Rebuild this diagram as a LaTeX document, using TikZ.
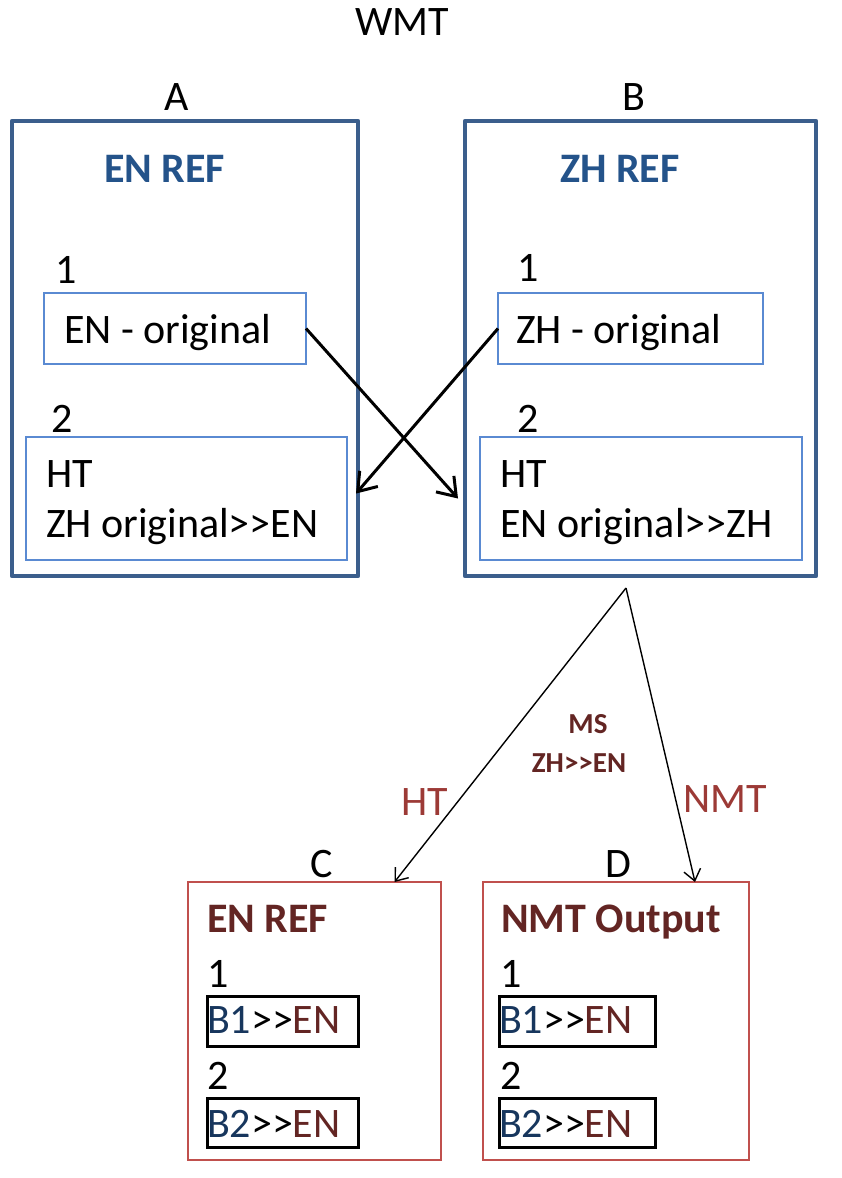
\documentclass[tikz,border=0pt]{standalone}
\usepackage{fontspec}
\setmainfont{Carlito}
\usetikzlibrary{arrows.meta}
\definecolor{outerblue}{HTML}{3B5E8C}
\definecolor{titleblue}{HTML}{24538A}
\definecolor{innerblue}{HTML}{5A8AD2}
\definecolor{boxred}{HTML}{C0504D}
\definecolor{darkred}{HTML}{632523}
\definecolor{labelred}{HTML}{9C3A36}
\definecolor{bblue}{HTML}{17365D}
\begin{document}
\begin{tikzpicture}[x=1pt,y=-1pt,
  txt/.style={inner sep=0pt, outer sep=0pt, font=\fontsize{42}{50}\selectfont, anchor=base west},
  ctxt/.style={txt, anchor=base},
  btxt/.style={txt, font=\fontsize{42}{50}\selectfont\bfseries},
  mtxt/.style={inner sep=0pt, outer sep=0pt, font=\fontsize{29}{35}\selectfont\bfseries, anchor=base, text=darkred},
  bx/.style={draw, rectangle, inner sep=0pt, outer sep=0pt, anchor=north west},
  outerbox/.style={bx, draw=outerblue, line width=4.5pt, line join=round},
  innerbox/.style={bx, draw=innerblue, line width=1.8pt},
  redbox/.style={bx, draw=boxred, line width=1.8pt},
  smallbox/.style={bx, draw=black, line width=3pt},
  thickarr/.style={line width=3pt, -{Straight Barb[length=17pt,width=24pt]}},
  thinarr/.style={line width=1.4pt, -{Straight Barb[length=11pt,width=17pt]}}
]
\useasboundingbox (0,0) rectangle (842,1178);

\node[ctxt] (title) at (402,35) {WMT};
\node[ctxt] (lblA) at (177,110) {A};
\node[ctxt] (lblB) at (634,110) {B};

% Box A
\node[outerbox, minimum width=346pt, minimum height=455pt] (boxA) at (12,121) {};
\node[btxt, text=titleblue] (titleA) at (104,182) {EN REF};
\node[txt] (numA1) at (55,283) {1};
\node[innerbox, minimum width=262pt, minimum height=71pt] (boxA1) at (44,293) {};
\node[txt] (txtA1) at (64,343) {EN - original};
\node[txt] (numA2) at (51,432) {2};
\node[innerbox, minimum width=321pt, minimum height=123pt] (boxA2) at (26,437) {};
\node[txt] (txtA2a) at (46,487) {HT};
\node[txt] (txtA2b) at (46,537) {ZH original{>}{>}EN};

% Box B
\node[outerbox, minimum width=351pt, minimum height=455pt] (boxB) at (465,121) {};
\node[btxt, text=titleblue] (titleB) at (560,182) {ZH REF};
\node[txt] (numB1) at (517,281) {1};
\node[innerbox, minimum width=265pt, minimum height=71pt] (boxB1) at (498,293) {};
\node[txt] (txtB1) at (516,343) {ZH - original};
\node[txt] (numB2) at (517,432) {2};
\node[innerbox, minimum width=322pt, minimum height=123pt] (boxB2) at (480,437) {};
\node[txt] (txtB2a) at (500,487) {HT};
\node[txt] (txtB2b) at (500,537) {EN original{>}{>}ZH};

% crossing arrows
\draw[thickarr] (boxA1.east) -- ([xshift=-22pt]boxB2.west);
\draw[thickarr] (boxB1.west) -- ([xshift=9pt,yshift=5pt]boxA2.east);

% lower part
\coordinate (apex) at (626,588);
\node[mtxt] (ms1) at (588,733) {MS};
\node[mtxt] (ms2) at (579,772) {ZH{>}{>}EN};
\node[txt, text=labelred] (lblHT) at (401,815) {HT};
\node[txt, text=labelred] (lblNMT) at (683,812) {NMT};

\node[ctxt] (lblC) at (322,877) {C};
\node[ctxt] (lblD) at (618,877) {D};

% Box C
\node[redbox, minimum width=253pt, minimum height=278pt] (boxC) at (188,882) {};
\node[btxt, text=darkred] (titleC) at (207,932) {EN REF};
\node[txt] (numC1) at (207,987) {1};
\node[smallbox, minimum width=151pt, minimum height=50pt] (boxC1) at (207,996) {};
\node[txt] (txtC1) at (207,1033) {\textcolor{bblue}{B1}{>}{>}\textcolor{darkred}{EN}};
\node[txt] (numC2) at (207,1089) {2};
\node[smallbox, minimum width=151pt, minimum height=49pt] (boxC2) at (207,1098) {};
\node[txt] (txtC2) at (207,1137) {\textcolor{bblue}{B2}{>}{>}\textcolor{darkred}{EN}};

% Box D
\node[redbox, minimum width=266pt, minimum height=278pt] (boxD) at (483,882) {};
\node[btxt, text=darkred] (titleD) at (501,932) {NMT Output};
\node[txt] (numD1) at (500,987) {1};
\node[smallbox, minimum width=156pt, minimum height=50pt] (boxD1) at (499,996) {};
\node[txt] (txtD1) at (499,1033) {\textcolor{bblue}{B1}{>}{>}\textcolor{darkred}{EN}};
\node[txt] (numD2) at (500,1089) {2};
\node[smallbox, minimum width=156pt, minimum height=49pt] (boxD2) at (499,1098) {};
\node[txt] (txtD2) at (499,1137) {\textcolor{bblue}{B2}{>}{>}\textcolor{darkred}{EN}};

\draw[thinarr] (apex) -- ([xshift=-46.5pt]boxC.north east);
\draw[thinarr] (apex) -- ([xshift=-54pt]boxD.north east);
\end{tikzpicture}
\end{document}
